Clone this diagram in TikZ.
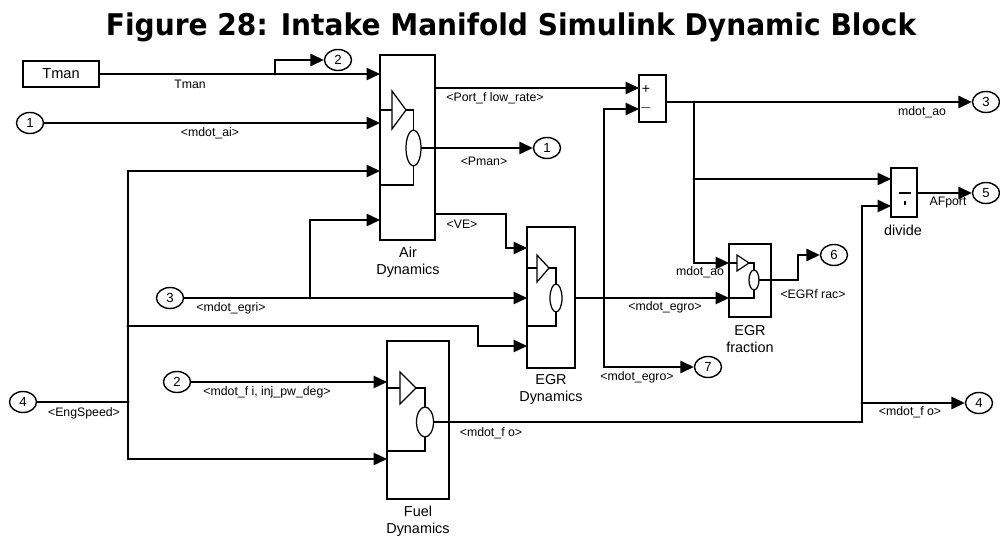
\documentclass[tikz,border=0pt]{standalone}
\usepackage{fontspec}
\setmainfont{Liberation Sans}
\newfontfamily\titlefont{DejaVu Sans}
\usetikzlibrary{arrows.meta,calc,shapes.geometric}

\begin{document}
\begin{tikzpicture}[x=0.2mm,y=-0.2mm,
  sig/.style={line width=0.8pt,-{Triangle[length=2.7mm,width=2.5mm]}},
  wire/.style={line width=0.8pt},
  blk/.style={draw,line width=0.8pt,inner sep=0pt},
  icon/.style={line width=0.7pt},
  port/.style={draw,ellipse,line width=0.8pt,minimum width=5.4mm,minimum height=4.2mm,
               inner sep=0pt,font=\fontsize{7.5}{8}\selectfont},
  lbl/.style={font=\fontsize{7}{8}\selectfont,inner sep=0pt},
  blab/.style={font=\fontsize{8.2}{9.7}\selectfont,inner sep=0pt,align=center},
  jdot/.style={circle,fill,inner sep=0pt,minimum size=1.8pt}]
  \useasboundingbox (0,0) rectangle (1000,538);

  % --- Title ---
  \node[font=\titlefont\bfseries\fontsize{17}{20}\selectfont,anchor=base] (title) at (511,36)
       {\scalebox{0.94}[1]{Figure 28: Intake Manifold Simulink Dynamic Block}};

  % --- Blocks ---
  \node[blk,minimum width=15.2mm,minimum height=5.2mm,font=\fontsize{8.3}{9}\selectfont]
       (tman) at (61,74) {Tman};
  \node[blk,minimum width=11mm,minimum height=37mm]    (air)  at (407.5,147.5) {};
  \node[blk,minimum width=9.6mm,minimum height=28.2mm] (egr)  at (551,297.5) {};
  \node[blk,minimum width=12.4mm,minimum height=31.6mm](fuel) at (418,420) {};
  \node[blk,minimum width=8.4mm,minimum height=14.6mm] (frac) at (750,280.5) {};
  \node[blk,minimum width=5.4mm,minimum height=9.4mm]  (sum)  at (652.5,98.5) {};
  \node[blk,minimum width=5.2mm,minimum height=9.8mm]  (div)  at (904,192.5) {};

  % block captions
  \node[blab] (airlab)  at (408,262)  {Air\\Dynamics};
  \node[blab] (egrlab)  at (551,389)  {EGR\\Dynamics};
  \node[blab] (fuellab) at (418,521)  {Fuel\\Dynamics};
  \node[blab] (fraclab) at (750,339)  {EGR\\fraction};
  \node[blab] (divlab)  at (903,230)  {divide};

  % sum and divide signs
  \node[lbl,font=\fontsize{8}{9}\selectfont] (plus)  at (646,89)  {+};
  \node[lbl,font=\fontsize{8}{9}\selectfont] (minus) at (646,108) {$-$};
  \draw[icon] (899,193) -- (911,193);
  \draw[icon] (905,201) -- (905,205);

  % --- Block icons (gain + integrator) ---
  % Air Dynamics
  \draw[icon] (392,91) -- (406,110) -- (392,129) -- cycle;
  \draw[icon] (380,110) -- (392,110);
  \draw[icon] (406,110) -- (413.5,110) -- (413.5,130);
  \draw[icon] (413.5,148) ellipse [x radius=7.5,y radius=18];
  \draw[icon] (413.5,166) -- (413.5,185) -- (380,185);
  \draw[icon] (421,148) -- (435,148);
  % EGR Dynamics
  \draw[icon] (537,255) -- (549,268) -- (537,282) -- cycle;
  \draw[icon] (527,268) -- (537,268);
  \draw[icon] (549,268) -- (556,268) -- (556,284);
  \draw[icon] (556,298) ellipse [x radius=6,y radius=14];
  \draw[icon] (556,312) -- (556,326) -- (527,326);
  % Fuel Dynamics
  \draw[icon] (400,372) -- (416,388) -- (400,404) -- cycle;
  \draw[icon] (387,388) -- (400,388);
  \draw[icon] (416,388) -- (425,388) -- (425,407);
  \draw[icon] (425,422) ellipse [x radius=8.5,y radius=15];
  \draw[icon] (425,437) -- (425,451) -- (387,451);
  \draw[icon] (433.5,422) -- (449,422);
  % EGR fraction
  \draw[icon] (737,255) -- (749,263) -- (737,271) -- cycle;
  \draw[icon] (729,263) -- (737,263);
  \draw[icon] (749,263) -- (754,263) -- (754,270);
  \draw[icon] (754,280) ellipse [x radius=5,y radius=10];
  \draw[icon] (754,290) -- (754,298) -- (729,298);
  \draw[icon] (759,280) -- (771,280);

  % --- Ports on blocks ---
  \coordinate (ain1) at (380,74);
  \coordinate (ain2) at (380,123);
  \coordinate (ain3) at (380,171);
  \coordinate (ain4) at (380,220);
  \coordinate (aout1) at (435,88);
  \coordinate (aout2) at (435,148);
  \coordinate (aout3) at (435,214);
  \coordinate (sin1) at (639,88);
  \coordinate (sin2) at (639,109);
  \coordinate (sout) at (666,102);
  \coordinate (din1) at (891,179);
  \coordinate (din2) at (891,206);
  \coordinate (dout) at (917,193);
  \coordinate (ein1) at (527,248);
  \coordinate (ein2) at (527,298);
  \coordinate (ein3) at (527,346);
  \coordinate (eout) at (575,298);
  \coordinate (fin1) at (729,263);
  \coordinate (fin2) at (729,298);
  \coordinate (fout) at (771,280);
  \coordinate (uin1) at (387,382);
  \coordinate (uin2) at (387,459);
  \coordinate (uout) at (449,422);

  % --- In / out ports ---
  \node[port] (i1) at (30,123)  {1};
  \node[port] (i3) at (170,298) {3};
  \node[port] (i2) at (177,382) {2};
  \node[port] (i4) at (23,402)  {4};
  \node[port] (o2) at (338,60)  {2};
  \node[port] (o1) at (547,148) {1};
  \node[port] (o3) at (986,102) {3};
  \node[port] (o5) at (986,193) {5};
  \node[port] (o6) at (834,255) {6};
  \node[port] (o7) at (708,367) {7};
  \node[port] (o4) at (979,403) {4};

  % --- Branch points ---
  \coordinate (jT)  at (275,74);
  \coordinate (jE)  at (128,402);
  \coordinate (jE2) at (128,326);
  \coordinate (jG)  at (310,298);
  \coordinate (jS)  at (694,102);
  \coordinate (jS2) at (694,179);
  \coordinate (jM)  at (604,298);
  \coordinate (jF)  at (862,403);
  \foreach \j in {jT,jE,jE2,jG,jS,jS2,jM,jF}
    \node[jdot] at (\j) {};

  % --- Signals ---
  \draw[sig] (tman.east) -- (ain1);
  \draw[sig] (jT) |- (o2.west);
  \draw[sig] (i1) -- (ain2);
  \draw[wire] (i4) -- (jE);
  \draw[sig] (jE) |- (ain3);
  \draw[sig] (jE) |- (uin2);
  \draw[sig] (jE2) -- (478,326) |- (ein3);
  \draw[sig] (i3) -- (ein2);
  \draw[sig] (jG) |- (ain4);
  \draw[sig] (i2) -- (uin1);
  \draw[sig] (aout1) -- (sin1);
  \draw[sig] (aout2) -- (o1);
  \draw[sig] (aout3) -- (506,214) |- (ein1);
  \draw[sig] (sout) -- (o3);
  \draw[sig] (jS) |- (fin1);
  \draw[sig] (jS2) -- (din1);
  \draw[sig] (eout) -- (fin2);
  \draw[sig] (jM) |- (sin2);
  \draw[sig] (jM) |- (o7.west);
  \draw[sig] (fout) -- (798,280) |- (o6.west);
  \draw[wire] (uout) -| (jF);
  \draw[sig] (jF) -- (o4);
  \draw[sig] (jF) |- (din2);
  \draw[sig] (dout) -- (o5);

  % --- Signal labels ---
  \node[lbl] (l1)  at (190,84)  {Tman};
  \node[lbl] (l2)  at (210,133) {<mdot\_ai>};
  \node[lbl] (l3)  at (495,98)  {<Port\_f low\_rate>};
  \node[lbl] (l4)  at (484,161) {<Pman>};
  \node[lbl] (l5)  at (462,224) {<VE>};
  \node[lbl] (l6)  at (922,112) {mdot\_ao};
  \node[lbl] (l7)  at (948,203) {AFport};
  \node[lbl] (l8)  at (700,272) {mdot\_ao};
  \node[lbl] (l9)  at (665,307) {<mdot\_egro>};
  \node[lbl] (l10) at (813,294) {<EGRf rac>};
  \node[lbl] (l11) at (637,377) {<mdot\_egro>};
  \node[lbl] (l12) at (910,412) {<mdot\_f o>};
  \node[lbl] (l13) at (491,433) {<mdot\_f o>};
  \node[lbl] (l14) at (231,308) {<mdot\_egri>};
  \node[lbl] (l15) at (267,392) {<mdot\_f i, inj\_pw\_deg>};
  \node[lbl] (l16) at (84,413)  {<EngSpeed>};
\end{tikzpicture}
\end{document}
